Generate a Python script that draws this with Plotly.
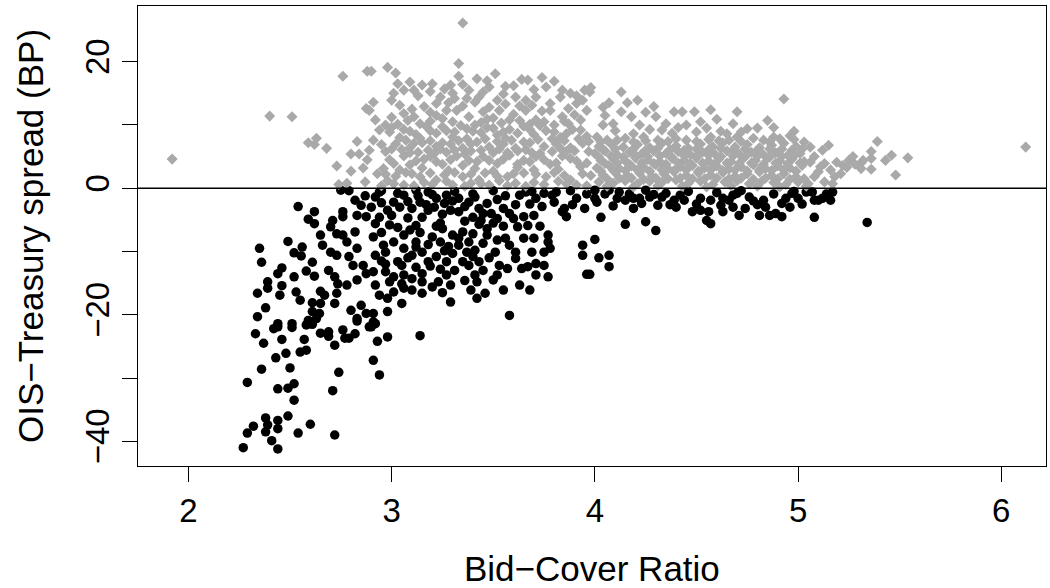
import plotly.graph_objects as go

# --- auction data: bid-cover ratio vs OIS-Treasury spread (bp) ---
# grey diamonds: spread above zero (clearly separable points)
grey_ratio = [
    1.92, 2.40, 2.51, 2.76, 2.88, 2.59, 2.63, 2.62, 2.68, 2.73,
    2.80, 2.83, 2.80, 2.84, 2.875, 2.74, 2.78, 2.87, 3.35, 3.33,
    3.33, 2.98, 3.02, 2.90, 3.42, 3.51, 3.56, 3.64, 3.67, 3.74,
    3.80, 3.95, 3.84, 3.88, 3.03, 3.09, 3.11, 3.15, 3.20, 3.29,
    3.30, 3.38, 3.48, 3.52, 3.01, 3.06, 3.24, 3.31, 3.37, 3.43,
    3.61, 3.66, 3.71, 3.78, 3.83, 3.91, 3.96, 2.91, 2.89, 3.06,
    3.11, 3.16, 3.22, 3.27, 3.32, 3.38, 3.45, 3.53, 3.58, 3.66,
    3.71, 3.78, 3.84, 3.93, 2.92, 2.97, 2.94, 2.99, 2.91, 2.86,
    2.88, 2.89, 3.06, 3.12, 3.17, 3.22, 3.27, 3.34, 3.40, 3.47,
    3.52, 3.58, 3.65, 3.70, 3.76, 3.83, 3.89, 3.96, 3.02, 3.09,
    3.15, 3.22, 3.29, 3.35, 3.42, 3.48, 3.55, 3.61, 3.68, 3.75,
    3.81, 3.88, 3.94, 3.01, 3.06, 3.12, 3.19, 3.25, 3.32, 3.38,
    3.45, 3.52, 3.58, 3.65, 3.71, 3.78, 3.84, 3.91, 2.93, 3.10,
    3.22, 3.35, 3.43, 3.57, 3.65, 3.76, 3.88, 3.94, 3.06, 3.30,
    3.48, 3.61, 3.91, 3.00, 3.19, 3.25, 3.44, 3.50, 3.63, 3.75,
    3.87, 3.04, 3.14, 3.30, 3.37, 3.56, 3.72, 3.92, 2.97, 3.09,
    3.18, 3.27, 3.39, 3.50, 3.62, 3.73, 3.86, 2.96, 3.04, 3.15,
    3.28, 3.41, 3.50, 3.62, 3.70, 3.82, 3.93, 2.98, 3.16, 3.27,
    3.39, 3.53, 3.70, 3.82, 3.98, 4.13, 4.07, 4.16, 3.975, 4.29,
    4.39, 4.43, 4.49, 4.57, 4.70, 4.93, 4.13, 4.18, 4.30, 4.35,
    4.45, 4.68, 4.75, 4.80, 4.88, 4.96, 5.03, 4.04, 4.09, 4.01,
    4.19, 4.24, 4.50, 4.57, 4.65, 4.70, 4.83, 4.93, 4.02, 4.08,
    4.14, 4.21, 4.27, 4.33, 4.40, 4.46, 4.52, 4.58, 4.63, 4.69,
    4.75, 4.81, 4.87, 4.92, 4.99, 4.00, 4.05, 4.11, 4.17, 4.23,
    4.29, 4.35, 4.41, 4.47, 4.53, 4.59, 4.65, 4.71, 4.77, 4.83,
    4.89, 4.95, 5.01, 4.03, 4.09, 4.15, 4.20, 4.26, 4.32, 4.38,
    4.44, 4.50, 4.56, 4.61, 4.67, 4.73, 4.79, 4.85, 4.91, 4.97,
    5.03, 4.01, 4.07, 4.12, 4.18, 4.24, 4.30, 4.36, 4.42, 4.48,
    4.54, 4.60, 4.66, 4.72, 4.78, 4.84, 4.90, 4.96, 5.02, 4.04,
    4.10, 4.16, 4.22, 4.28, 4.34, 4.39, 4.45, 4.51, 4.57, 4.63,
    4.69, 4.75, 4.81, 4.87, 4.93, 4.99, 4.02, 4.09, 4.15, 4.21,
    4.27, 4.33, 4.40, 4.46, 4.52, 4.58, 4.64, 4.70, 4.76, 4.82,
    4.88, 4.94, 5.00, 5.05, 4.06, 4.19, 4.31, 4.43, 4.55, 4.67,
    4.80, 4.91, 5.04, 4.06, 4.15, 4.31, 4.40, 4.61, 4.78, 4.98,
    4.10, 4.27, 4.38, 4.55, 4.62, 4.88, 5.39, 6.12, 5.15, 5.12,
    5.06, 5.08, 5.36, 5.36, 5.46, 5.43, 5.54, 5.48, 5.27, 5.25,
    5.31, 5.32, 5.36, 5.31, 5.13, 5.19, 5.11, 5.16, 5.22, 5.21,
    5.18, 5.17, 5.13, 5.08, 5.10, 5.24, 5.28, 5.06, 4.12, 4.48,
]
grey_spread = [
    4.6, 11.4, 11.3, 17.7, 18.5, 7.2, 7.9, 6.9, 6.3, 3.5,
    2.7, 7.4, 5.4, 5.4, 12.6, 0.6, 0.8, 1.0, 26.1, 19.7,
    17.7, 19.1, 18.2, 18.5, 17.3, 18.1, 16.1, 17.2, 17.1, 17.5,
    16.9, 15.5, 15.5, 15.0, 16.5, 16.8, 15.5, 16.3, 16.5, 16.3,
    15.0, 15.5, 16.0, 13.9, 15.0, 15.5, 14.4, 14.2, 14.2, 14.4,
    14.4, 13.9, 14.4, 13.4, 14.4, 13.4, 12.3, 13.6, 12.3, 11.8,
    11.3, 12.9, 13.4, 12.3, 12.3, 11.3, 12.1, 12.3, 10.8, 12.3,
    10.8, 12.3, 11.3, 10.8, 10.8, 10.0, 9.2, 8.9, 7.6, 3.2,
    4.5, 6.0, 9.3, 8.5, 9.8, 8.7, 9.1, 9.9, 9.0, 9.6,
    8.4, 9.3, 9.8, 8.5, 9.1, 8.0, 9.3, 8.2, 7.0, 6.4,
    7.2, 6.6, 7.0, 6.3, 7.3, 6.5, 7.0, 6.3, 7.2, 6.6,
    7.0, 6.4, 7.1, 3.9, 5.1, 4.3, 5.0, 3.8, 5.1, 4.4,
    5.0, 3.9, 5.2, 4.4, 5.0, 3.8, 5.1, 4.3, 2.3, 2.3,
    1.3, 1.8, 1.3, 1.8, 2.4, 1.8, 1.3, 2.3, 0.5, 0.5,
    0.5, 0.8, 0.5, 11.2, 10.6, 11.0, 10.4, 11.1, 10.7, 10.5,
    10.2, 8.0, 7.9, 8.1, 7.8, 7.9, 7.7, 7.8, 5.8, 5.6,
    6.0, 5.7, 5.9, 5.6, 5.9, 5.5, 5.8, 3.1, 2.9, 3.2,
    2.8, 3.1, 2.7, 3.3, 2.9, 3.0, 3.4, 1.2, 0.9, 1.1,
    0.8, 1.2, 0.9, 1.1, 15.9, 15.2, 13.5, 13.5, 15.2, 12.9,
    12.1, 12.1, 12.1, 12.4, 12.1, 14.1, 12.1, 11.3, 11.3, 10.2,
    10.0, 10.2, 9.4, 9.5, 8.1, 8.3, 7.3, 10.0, 10.2, 8.1,
    8.6, 8.1, 8.9, 8.1, 8.6, 8.1, 7.6, 7.1, 6.6, 7.0,
    6.5, 6.9, 6.4, 7.1, 6.7, 6.3, 7.0, 6.6, 7.2, 6.5,
    6.9, 6.4, 6.8, 6.2, 6.6, 5.5, 5.9, 5.3, 5.7, 5.4,
    5.9, 5.5, 5.8, 5.3, 5.7, 5.4, 5.9, 5.4, 5.7, 5.3,
    5.6, 5.2, 5.5, 4.4, 4.7, 4.3, 4.8, 4.5, 4.2, 4.7,
    4.4, 4.8, 4.3, 4.6, 4.2, 4.7, 4.4, 4.8, 4.3, 4.6,
    4.2, 3.2, 3.6, 3.1, 3.5, 3.3, 3.7, 3.1, 3.4, 3.6,
    3.2, 3.5, 3.0, 3.4, 3.7, 3.1, 3.5, 3.2, 3.6, 2.1,
    2.5, 2.0, 2.4, 1.9, 2.3, 2.6, 2.0, 2.4, 2.1, 2.5,
    1.9, 2.3, 2.6, 2.0, 2.3, 1.8, 1.0, 0.8, 1.2, 0.7,
    1.1, 0.9, 1.3, 0.8, 1.1, 0.6, 1.0, 1.2, 0.7, 1.1,
    0.9, 0.6, 1.0, 0.7, 0.3, 0.2, 0.4, 0.3, 0.2, 0.4,
    0.3, 0.2, 0.3, 7.6, 7.9, 7.6, 7.8, 7.5, 7.9, 7.7,
    9.1, 9.3, 8.7, 9.5, 9.0, 9.6, 7.4, 6.5, 6.8, 6.0,
    6.5, 5.0, 5.8, 4.7, 5.2, 4.4, 4.8, 2.1, 5.0, 4.4,
    4.0, 4.4, 3.0, 3.1, 3.9, 4.1, 3.4, 2.9, 3.6, 2.3,
    1.8, 0.7, 1.0, 1.8, 2.6, 3.3, 3.8, 4.1, 1.6, 1.5,
]

# grey diamonds inside the two overlapping masses (3.0-4.0 and 4.0-5.05)
grey_mass_ratio = [
    3.13, 3.19, 3.26, 3.35, 3.45, 3.55, 3.60, 3.70, 3.76, 3.91,
    3.00, 3.47, 3.04, 3.10, 3.19, 3.28, 3.35, 3.41, 3.48, 3.56,
    3.63, 3.69, 3.74, 3.87, 3.94, 3.03, 3.08, 3.14, 3.22, 3.30,
    3.41, 3.47, 3.54, 3.60, 3.68, 3.80, 3.85, 3.90, 3.00, 3.09,
    3.19, 3.25, 3.31, 3.37, 3.44, 3.50, 3.55, 3.62, 3.68, 3.73,
    3.80, 3.86, 3.93, 2.95, 3.07, 3.11, 3.19, 3.25, 3.33, 3.39,
    3.46, 3.52, 3.59, 3.65, 3.79, 3.85, 3.97, 3.00, 3.05, 3.13,
    3.21, 3.24, 3.31, 3.36, 3.44, 3.53, 3.57, 3.66, 3.69, 3.79,
    3.83, 3.90, 3.97, 2.99, 3.09, 3.16, 3.22, 3.29, 3.35, 3.42,
    3.48, 3.55, 3.62, 3.68, 3.75, 3.81, 3.88, 3.96, 2.97, 3.02,
    3.07, 3.14, 3.19, 3.26, 3.31, 3.39, 3.46, 3.52, 3.60, 3.71,
    3.80, 3.85, 3.98, 2.95, 3.01, 3.11, 3.20, 3.36, 3.44, 3.57,
    3.66, 3.75, 3.86, 3.96, 4.03, 4.11, 4.19, 4.25, 4.36, 4.45,
    4.50, 4.56, 4.66, 4.72, 4.86, 4.91, 4.04, 4.10, 4.19, 4.25,
    4.31, 4.37, 4.44, 4.50, 4.56, 4.62, 4.68, 4.74, 4.80, 4.86,
    4.97, 5.02, 4.02, 4.08, 4.14, 4.20, 4.26, 4.32, 4.38, 4.44,
    4.50, 4.56, 4.62, 4.68, 4.74, 4.80, 4.86, 4.92, 4.98, 4.05,
    4.11, 4.17, 4.23, 4.29, 4.35, 4.41, 4.47, 4.53, 4.59, 4.65,
    4.71, 4.77, 4.83, 4.89, 4.95, 5.01, 4.03, 4.09, 4.15, 4.21,
    4.27, 4.33, 4.39, 4.45, 4.51, 4.57, 4.63, 4.69, 4.75, 4.81,
    4.87, 4.93, 4.99, 4.06, 4.18, 4.24, 4.30, 4.36, 4.42, 4.54,
    4.60, 4.66, 4.72, 4.78, 4.84, 4.90, 4.96, 5.03, 4.05, 4.22,
    4.25, 4.33, 4.41, 4.52, 4.60, 4.72, 4.85, 4.98, 4.04, 4.21,
]
grey_mass_spread = [
    14.6, 15.3, 15.7, 16.4, 15.2, 14.9, 16.2, 15.6, 16.0, 14.6,
    13.9, 17.0, 13.1, 12.5, 12.0, 13.5, 13.0, 13.6, 12.8, 13.3,
    13.0, 13.1, 12.2, 12.6, 13.9, 10.1, 10.7, 10.2, 11.5, 10.5,
    10.0, 10.9, 10.3, 11.7, 10.1, 10.0, 10.6, 11.6, 9.6, 9.0,
    9.1, 9.7, 8.9, 9.4, 8.8, 9.5, 8.9, 8.7, 9.3, 9.9,
    8.9, 8.6, 9.2, 6.9, 7.6, 7.1, 7.5, 7.2, 7.5, 7.0,
    7.8, 7.4, 7.6, 7.3, 7.8, 7.5, 7.4, 6.2, 6.1, 5.7,
    5.5, 6.2, 6.0, 5.4, 6.0, 6.2, 5.6, 6.1, 5.6, 5.8,
    6.3, 5.9, 5.8, 4.5, 3.7, 4.6, 4.2, 4.5, 3.6, 4.2,
    4.4, 4.6, 3.8, 4.2, 4.5, 4.0, 4.7, 4.0, 2.2, 1.9,
    2.5, 1.8, 2.4, 2.1, 2.5, 2.2, 2.4, 1.9, 2.3, 2.2,
    2.5, 2.0, 2.0, 0.4, 0.7, 0.4, 0.6, 0.3, 0.7, 0.4,
    0.3, 0.6, 0.7, 0.4, 7.3, 7.6, 7.3, 7.5, 7.4, 7.6,
    7.4, 7.7, 7.6, 7.4, 7.3, 7.8, 6.1, 6.2, 6.2, 6.0,
    6.3, 6.1, 6.0, 6.2, 6.1, 6.3, 6.0, 6.2, 6.0, 6.2,
    6.0, 6.2, 4.9, 5.1, 4.9, 5.2, 5.0, 5.1, 4.9, 5.1,
    5.0, 5.2, 5.0, 5.1, 5.0, 5.1, 4.9, 5.0, 5.1, 3.9,
    4.0, 3.8, 4.0, 3.9, 3.8, 4.0, 3.9, 4.0, 3.8, 4.0,
    3.9, 4.0, 3.8, 4.0, 3.9, 4.0, 2.7, 2.9, 2.8, 2.9,
    2.7, 2.9, 2.8, 2.9, 2.7, 2.9, 2.8, 2.9, 2.7, 2.9,
    2.8, 2.9, 2.7, 1.5, 1.6, 1.4, 1.6, 1.5, 1.6, 1.5,
    1.6, 1.5, 1.6, 1.4, 1.6, 1.5, 1.4, 1.5, 11.5, 10.0,
    12.0, 9.2, 9.6, 10.5, 10.9, 8.9, 10.7, 9.0, 12.8, 13.9,
]

# black dots: spread below zero (clearly separable points)
black_ratio = [
    2.54, 2.62, 2.59, 2.62, 2.76, 2.76, 2.71, 2.70, 2.82, 2.85,
    2.83, 2.875, 2.82, 2.65, 2.73, 2.76, 2.78, 2.49, 2.35, 2.36,
    2.52, 2.56, 2.555, 2.66, 2.70, 2.73, 2.61, 2.79, 2.81, 2.83,
    2.86, 2.46, 2.44, 2.58, 2.52, 2.62, 2.69, 2.72, 2.735, 2.78,
    2.83, 2.875, 2.39, 2.39, 2.46, 2.34, 2.45, 2.53, 2.55, 2.65,
    2.67, 2.73, 2.72, 2.61, 2.65, 2.38, 2.61, 2.645, 2.80, 2.85,
    2.34, 2.59, 2.63, 2.83, 2.875, 2.44, 2.51, 2.33, 2.37, 2.42,
    2.44, 2.51, 2.46, 2.58, 2.60, 2.61, 2.57, 2.65, 2.69, 2.69,
    2.76, 2.77, 2.79, 2.82, 2.72, 2.83, 2.89, 2.55, 2.58, 2.48,
    2.43, 2.36, 2.50, 2.74, 2.29, 2.44, 2.49, 2.52, 2.71, 2.52,
    2.49, 2.38, 2.44, 2.39, 2.32, 2.44, 2.60, 2.29, 2.38, 2.54,
    2.72, 2.41, 2.27, 2.44, 2.92, 2.90, 2.93, 2.98, 3.14, 2.91,
    2.94, 4.07, 4.00, 4.00, 4.01, 4.11, 4.15, 4.19, 4.19, 4.25,
    4.22, 4.27, 4.31, 4.33, 4.39, 4.44, 4.48, 4.52, 4.52, 4.57,
    4.55, 4.57, 4.56, 4.63, 4.63, 4.68, 4.68, 4.74, 4.71, 4.76,
    4.81, 4.83, 4.86, 4.92, 4.89, 4.96, 5.00, 4.94, 5.04, 4.03,
    4.15, 4.25, 4.30, 4.00, 4.02, 4.07, 4.07, 3.975, 5.07, 5.10,
    5.12, 5.08, 5.16, 5.17, 5.08, 5.34, 2.92, 2.94, 3.01, 3.06,
    3.10, 3.14, 3.18, 3.22, 3.27, 3.29, 3.33, 3.33, 3.38, 3.43,
    3.47, 3.44, 3.49, 3.52, 3.58, 3.60, 3.65, 3.70, 3.63, 3.66,
    3.71, 3.75, 3.84, 3.86, 3.85, 3.81, 3.91, 3.95, 3.00, 2.92,
    2.99, 3.06, 3.09, 3.12, 2.91, 2.96, 3.01, 3.06, 3.10, 3.15,
    3.20, 3.24, 3.25, 3.30, 3.35, 3.33, 3.38, 3.41, 3.45, 3.47,
    3.47, 3.22, 3.27, 3.30, 3.35, 3.37, 3.43, 3.51, 3.53, 3.56,
    3.58, 3.61, 3.61, 3.65, 3.70, 3.69, 3.75, 3.77, 3.77, 3.78,
    3.64, 3.67, 3.71, 3.75, 3.71, 3.77, 3.94, 3.94, 3.96, 2.92,
    2.97, 3.03, 2.91, 2.97, 3.01, 3.06, 3.10, 3.15, 3.15, 3.23,
    3.27, 3.29, 2.92, 2.99, 2.94, 2.98, 3.01, 3.06, 3.10, 3.15,
    3.05, 3.25, 3.29, 3.39, 3.42, 3.46, 3.41, 3.42, 3.45, 3.52,
    3.55, 3.63, 3.68, 3.58, 2.98, 2.91, 2.91, 2.75, 2.79, 2.87,
    2.95, 3.03, 3.12, 3.20, 3.31, 3.40, 3.50, 3.56, 3.69, 3.79,
    3.88, 3.96, 3.15, 3.25, 3.36, 3.12, 3.24, 3.55, 3.40, 3.18,
    3.08, 4.35, 4.46, 4.60, 4.72, 4.88, 4.98, 4.12, 4.80, 4.40,
]
black_spread = [
    -2.9, -3.7, -4.9, -5.6, -3.7, -4.5, -5.1, -6.1, -1.9, -2.7,
    -4.3, -4.5, -6.9, -7.4, -7.2, -7.4, -8.5, -8.4, -9.5, -11.7,
    -10.2, -9.3, -10.7, -9.0, -10.1, -10.6, -11.7, -10.8, -12.2, -9.5,
    -12.2, -12.6, -13.5, -13.1, -14.0, -13.9, -13.0, -14.0, -15.1, -15.3,
    -14.5, -13.5, -14.8, -15.8, -15.4, -16.6, -16.9, -16.4, -17.7, -16.3,
    -16.9, -16.6, -18.2, -18.1, -18.2, -18.9, -19.5, -19.8, -19.3, -18.5,
    -20.3, -20.9, -20.6, -20.6, -19.8, -21.4, -21.4, -23.0, -24.5, -22.2,
    -21.9, -22.0, -23.9, -21.6, -21.4, -21.5, -23.9, -22.9, -22.7, -23.4,
    -22.4, -23.7, -23.7, -23.0, -24.8, -21.0, -21.9, -25.9, -25.6, -26.1,
    -26.8, -28.6, -28.4, -29.1, -30.7, -31.7, -31.6, -30.9, -32.0, -33.5,
    -36.0, -36.3, -36.7, -37.4, -37.6, -38.0, -37.3, -38.7, -38.5, -38.7,
    -39.0, -39.9, -41.0, -41.2, -21.4, -21.9, -24.2, -23.5, -23.3, -27.2,
    -29.5, -0.3, -0.3, -1.6, -2.2, -1.6, -1.9, -1.6, -3.2, -0.3,
    -1.6, -1.4, -2.7, -1.4, -1.9, -1.9, -3.7, -3.5, -1.6, -1.9,
    -5.1, -5.6, -3.7, -3.7, -1.6, -1.1, -3.0, -3.2, -4.3, -1.4,
    -4.3, -1.9, -4.3, -4.5, -4.0, -3.0, -1.6, -1.6, -0.6, -4.6,
    -5.7, -5.3, -6.7, -8.1, -11.0, -10.6, -12.4, -13.6, -0.6, -1.9,
    -1.6, -1.9, -1.9, -0.6, -4.6, -5.4, -1.4, -0.6, -2.2, -1.1,
    -3.2, -2.2, -0.6, -1.6, -1.1, -3.5, -1.6, -3.7, -2.2, -3.2,
    -2.4, -5.1, -4.0, -4.8, -4.0, -4.8, -4.5, -4.3, -1.1, -0.6,
    -1.6, -0.8, -3.7, -4.5, -3.2, -0.6, -1.6, -3.2, -4.3, -5.6,
    -5.8, -7.4, -6.6, -8.5, -7.7, -9.0, -8.5, -9.5, -10.6, -10.1,
    -7.7, -8.5, -6.4, -7.4, -6.9, -9.0, -8.5, -9.8, -8.7, -6.4,
    -7.4, -10.8, -11.6, -10.3, -11.6, -10.1, -11.6, -10.1, -12.2, -7.9,
    -9.0, -10.1, -11.1, -7.9, -7.9, -10.1, -10.1, -7.4, -8.5, -9.5,
    -12.7, -12.4, -11.9, -12.2, -13.7, -14.0, -9.0, -10.6, -13.6, -10.6,
    -10.1, -11.6, -13.2, -13.2, -14.0, -13.7, -14.3, -13.5, -14.8, -14.8,
    -13.7, -15.3, -15.3, -14.8, -16.9, -17.4, -16.4, -15.8, -16.1, -16.6,
    -18.2, -16.5, -18.0, -16.1, -17.4, -16.6, -13.7, -14.8, -13.0, -13.7,
    -16.1, -15.3, -16.1, -20.1, -19.5, -19.8, -21.1, -0.3, -0.4, -1.2,
    -0.4, -0.8, -0.3, -1.0, -0.5, -0.9, -0.4, -1.2, -0.5, -1.1,
    -0.4, -0.9, -4.6, -4.1, -5.2, -5.9, -5.5, -6.0, -4.6, -3.5,
    -4.7, -0.8, -0.5, -0.7, -0.4, -0.9, -0.5, -0.6, -2.6, -3.0,
]

# black dots inside the dense band just under zero
black_mass_ratio = [
    2.90, 2.95, 2.98, 3.04, 3.08, 3.13, 3.17, 3.21, 3.26, 3.30,
    3.36, 3.41, 3.45, 3.52, 3.55, 3.61, 3.68, 3.74, 3.80, 3.89,
    2.94, 3.03, 2.95, 3.14, 3.18, 3.22, 3.28, 3.33, 3.40, 3.43,
    3.50, 3.52, 3.62, 3.67, 3.73, 2.95, 3.05, 3.12, 3.19, 3.24,
    3.31, 3.38, 3.48, 3.50, 3.57, 3.36, 3.20, 3.05, 2.97, 3.08,
    3.18, 3.40, 3.26, 3.12, 4.05, 4.09, 4.17, 4.23, 4.29, 4.37,
    4.42, 4.50, 4.62, 4.66, 4.70, 4.78, 4.84, 4.92, 4.97, 5.02,
    5.14,
]
black_mass_spread = [
    -3.0, -2.3, -3.5, -3.0, -2.1, -1.2, -2.6, -3.0, -2.4, -2.0,
    -2.9, -1.4, -4.0, -1.8, -3.2, -2.6, -2.5, -2.9, -2.2, -2.6,
    -4.6, -6.2, -7.0, -7.0, -8.9, -6.0, -9.2, -7.9, -7.2, -5.7,
    -5.5, -8.2, -6.1, -5.9, -6.0, -11.5, -12.2, -12.5, -12.3, -12.8,
    -13.0, -12.2, -11.0, -14.5, -12.7, -14.6, -15.6, -15.1, -12.0, -11.0,
    -11.6, -10.8, -9.9, -9.3, -0.9, -2.8, -0.9, -2.4, -1.0, -2.6,
    -1.1, -2.5, -2.7, -1.9, -0.8, -2.0, -3.0, -2.4, -0.8, -2.5,
    -0.9,
]

y_ticks = [-40, -30, -20, -10, 0, 10, 20]
y_tick_text = ["\u221240", "", "\u221220", "", "0", "", "20"]
x_ticks = [2, 3, 4, 5, 6]

FONT = "Liberation Sans, Arial, Helvetica, sans-serif"

fig = go.Figure()
fig.add_trace(go.Scatter(
    x=black_ratio + black_mass_ratio, y=black_spread + black_mass_spread,
    mode="markers",
    marker=dict(symbol="circle", size=9.5, color="black", line=dict(width=0)),
    showlegend=False,
))
fig.add_trace(go.Scatter(
    x=grey_ratio + grey_mass_ratio, y=grey_spread + grey_mass_spread,
    mode="markers",
    marker=dict(symbol="diamond", size=8.5, color="#A9A9A9", line=dict(width=0)),
    showlegend=False,
))

# abline(h = 0)
fig.add_shape(type="line", xref="paper", x0=0, x1=1, yref="y", y0=0, y1=0,
              line=dict(color="black", width=1.3), layer="above")

fig.update_xaxes(
    range=[1.752, 6.22], tickvals=x_ticks, ticks="outside", ticklen=15,
    tickcolor="black", tickwidth=1, showline=True, linecolor="black",
    linewidth=1.3, mirror=True, showgrid=False, zeroline=False,
    tickfont=dict(family=FONT, size=33, color="black"),
)
fig.update_yaxes(
    range=[-43.9, 28.8], tickvals=y_ticks, ticktext=y_tick_text,
    tickangle=-90, ticks="outside", ticklen=15, tickcolor="black",
    tickwidth=1, showline=True, linecolor="black", linewidth=1.3,
    mirror=True, showgrid=False, zeroline=False,
    tickfont=dict(family=FONT, size=33, color="black"),
)

fig.add_annotation(text="Bid\u2212Cover Ratio", xref="paper", yref="paper",
                   x=0.5, y=-0.222, showarrow=False, xanchor="center",
                   yanchor="middle", font=dict(family=FONT, size=35, color="black"))
fig.add_annotation(text="OIS\u2212Treasury spread (BP)", xref="paper", yref="paper",
                   x=-0.119, y=0.5, textangle=-90, showarrow=False,
                   xanchor="center", yanchor="middle",
                   font=dict(family=FONT, size=35, color="black"))

fig.update_layout(
    width=1050, height=588,
    margin=dict(l=138, r=4, t=6, b=122),
    plot_bgcolor="white", paper_bgcolor="white",
)

# the page body has a default 8px margin; drop it so the figure sits at 0,0
fig.write_html("out.html", config={"displayModeBar": False},
               post_script="document.body.style.margin='0px';")
